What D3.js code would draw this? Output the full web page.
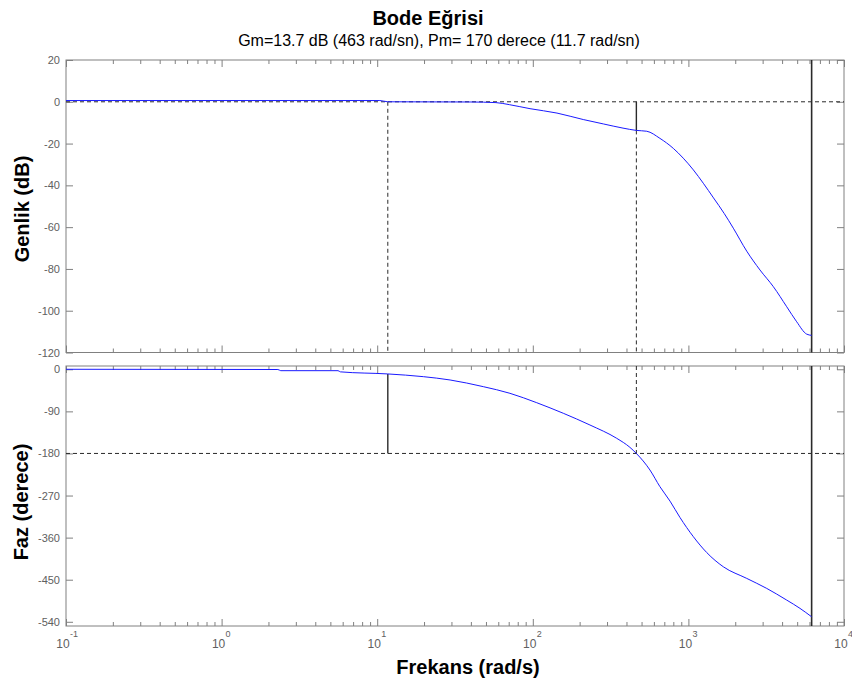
<!DOCTYPE html>
<html>
<head>
<meta charset="utf-8">
<script src="https://cdn.jsdelivr.net/npm/d3@7"></script>
<style>
  body { margin: 0; background: #fff; }
  svg { display: block; }
  text { font-family: "Liberation Sans", Arial, sans-serif; }
</style>
</head>
<body>
<svg id="chart" width="852" height="683"></svg>
<script>
// Frequency response samples (rad/s)
const magFreq = [0.1, 10.4, 11.7, 40, 58, 71, 96, 143, 211, 284, 380, 463, 540, 656, 800, 927, 1076, 1247, 1450, 1700, 1944, 2371, 2884, 3516, 4285, 4966, 5754, 6194];
const magDb   = [0.6, 0.6, 0, -0.1, -0.4, -1.4, -3.3, -5.4, -8.5, -10.6, -12.6, -13.7, -14.1, -17.5, -22.3, -27.0, -32.6, -39.0, -46.0, -53.5, -60.5, -71.5, -80.5, -88.5, -98.1, -105.3, -111.2, -111.8];

const phaseFreq = [0.1, 2.3, 2.4, 5.6, 5.8, 11.7, 19.8, 29.4, 48.1, 71.3, 106, 157, 233, 346, 421, 463, 566, 656, 762, 883, 1076, 1312, 1676, 2371, 3186, 4285, 5214, 6194];
const phaseDeg  = [0, -0.5, -3, -3, -5.5, -10, -15.8, -22.9, -37.2, -51.4, -71.5, -94.1, -119.2, -147.6, -167, -180, -215.4, -251, -282, -317, -358, -392, -422.3, -447.2, -468.6, -493.6, -511.3, -529.3];

// Stability margins
const gmDb = 13.7, gmFreq = 463;
const pmDeg = 170, pmFreq = 11.7;
const wEnd = 6194;

// Axis ticks
const freqDecades = [-1, 0, 1, 2, 3, 4];
const magTicks = [20, 0, -20, -40, -60, -80, -100, -120];
const phaseTicks = [0, -90, -180, -270, -360, -450, -540];

const svg = d3.select("#chart");
const L = 66, R = 844;
const magTop = 60, magBot = 352.5;
const phTop = 366, phBot = 626;

const x = d3.scaleLog().domain([0.1, 1e4]).range([L, R]);
const yMag = d3.scaleLinear().domain([20, -120]).range([magTop, magBot]);
const yPh = d3.scaleLinear().domain([7, -549]).range([phTop, phBot]);

const majorF = freqDecades.map(e => Math.pow(10, e));
const minorF = [];
freqDecades.slice(0, -1).forEach(e => { for (let k = 2; k <= 9; k++) minorF.push(k * Math.pow(10, e)); });

const frameCol = "#808080";
const tickCol = "#606060";

function panel(top, bot, yScale, yTicks) {
  const g = svg.append("g");
  // ticks on all four sides, pointing inward
  const styleAxis = sel => {
    sel.select(".domain").remove();
    sel.selectAll(".tick line").attr("stroke", frameCol);
    sel.selectAll(".tick text").attr("fill", tickCol).style("font-size", "11px")
      .style("font-family", "'Liberation Sans', Arial, sans-serif");
  };
  g.append("g").attr("transform", `translate(${L},0)`)
    .call(d3.axisLeft(yScale).tickValues(yTicks).tickSize(-7).tickPadding(6).tickFormat(d => String(d)))
    .call(styleAxis);
  g.append("g").attr("transform", `translate(${R},0)`)
    .call(d3.axisRight(yScale).tickValues(yTicks).tickSize(-7).tickFormat(""))
    .call(styleAxis);
  [[bot, d3.axisBottom], [top, d3.axisTop]].forEach(([yy, ax]) => {
    g.append("g").attr("transform", `translate(0,${yy})`)
      .call(ax(x).tickValues(majorF).tickSize(-7).tickFormat(""))
      .call(styleAxis);
    g.append("g").attr("transform", `translate(0,${yy})`)
      .call(ax(x).tickValues(minorF).tickSize(-4).tickFormat(""))
      .call(styleAxis);
  });
  g.append("rect").attr("x", L).attr("y", top).attr("width", R - L).attr("height", bot - top)
    .attr("fill", "none").attr("stroke", frameCol).attr("stroke-width", 1);
  return g;
}

const gMag = panel(magTop, magBot, yMag, magTicks);
const gPh = panel(phTop, phBot, yPh, phaseTicks);

function seg(g, x1, y1, x2, y2, dashed, w) {
  g.append("line").attr("x1", x1).attr("y1", y1).attr("x2", x2).attr("y2", y2)
    .attr("stroke", "#2a2a2a").attr("stroke-width", w || (dashed ? 1 : 1.4))
    .attr("stroke-dasharray", dashed ? "4,3" : null);
}

// Magnitude panel reference lines
seg(gMag, L, yMag(0), R, yMag(0), true);
seg(gMag, x(pmFreq), yMag(0), x(pmFreq), magBot, true);
seg(gMag, x(gmFreq), yMag(0), x(gmFreq), yMag(-gmDb), false);
seg(gMag, x(gmFreq), yMag(-gmDb), x(gmFreq), magBot, true);
seg(gMag, x(wEnd), magTop, x(wEnd), magBot, false, 1.6);

// Phase panel reference lines
seg(gPh, L, yPh(-180), R, yPh(-180), true);
seg(gPh, x(gmFreq), phTop, x(gmFreq), yPh(-180), true);
seg(gPh, x(pmFreq), yPh(-180 + pmDeg), x(pmFreq), yPh(-180), false);
seg(gPh, x(wEnd), phTop, x(wEnd), phBot, false, 1.6);

// Response curves
const magLine = d3.line().x((d, i) => x(magFreq[i])).y(d => yMag(d)).curve(d3.curveMonotoneX);
gMag.append("path").attr("d", magLine(magDb)).attr("fill", "none")
  .attr("stroke", "#1a1aff").attr("stroke-width", 1);

const phLine = d3.line().x((d, i) => x(phaseFreq[i])).y(d => yPh(d)).curve(d3.curveMonotoneX);
gPh.append("path").attr("d", phLine(phaseDeg)).attr("fill", "none")
  .attr("stroke", "#1a1aff").attr("stroke-width", 1);

// Frequency tick labels (powers of ten)
const xl = svg.append("g");
freqDecades.forEach(e => {
  xl.append("text").attr("x", x(Math.pow(10, e)) - 3).attr("y", 648)
    .attr("text-anchor", "middle").attr("fill", tickCol).style("font-size", "12px").text("10");
  xl.append("text").attr("x", x(Math.pow(10, e)) + 4).attr("y", 637)
    .attr("fill", tickCol).style("font-size", "9px").text(String(e));
});

// Titles and axis labels
svg.append("text").attr("x", 428).attr("y", 25).attr("text-anchor", "middle")
  .style("font-size", "20px").style("font-weight", "bold").text("Bode Eğrisi");
svg.append("text").attr("x", 439).attr("y", 46).attr("text-anchor", "middle")
  .style("font-size", "16px").text("Gm=13.7 dB (463 rad/sn), Pm= 170 derece (11.7 rad/sn)");
svg.append("text").attr("transform", "translate(29,209) rotate(-90)").attr("text-anchor", "middle")
  .style("font-size", "20px").style("font-weight", "bold").text("Genlik (dB)");
svg.append("text").attr("transform", "translate(28,502) rotate(-90)").attr("text-anchor", "middle")
  .style("font-size", "20px").style("font-weight", "bold").text("Faz (derece)");
svg.append("text").attr("x", 468).attr("y", 674).attr("text-anchor", "middle")
  .style("font-size", "20px").style("font-weight", "bold").text("Frekans (rad/s)");
</script>
</body>
</html>
